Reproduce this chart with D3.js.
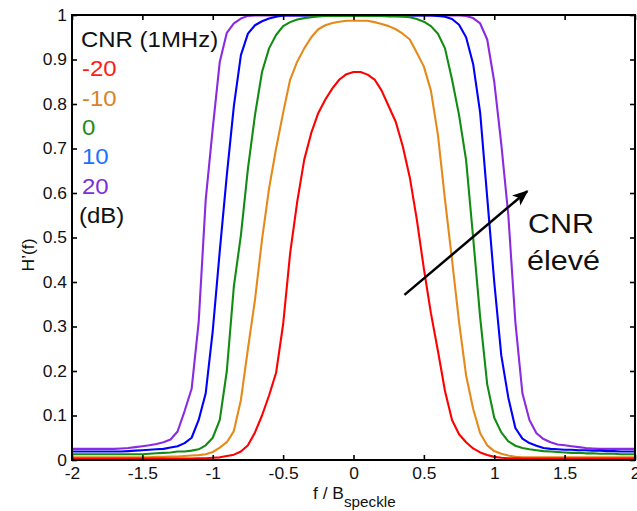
<!DOCTYPE html>
<html><head><meta charset="utf-8">
<script src="https://cdn.jsdelivr.net/npm/d3@7"></script>
<style>
html,body{margin:0;padding:0;background:#fff;}
svg{display:block;font-family:"Liberation Sans",Arial,sans-serif;}
</style></head>
<body>
<svg id="chart" width="637" height="511"></svg>
<script>
// ---------- data ----------
const freq = [
 -2.00,-1.95,-1.90,-1.85,-1.80,-1.75,-1.70,-1.65,-1.60,-1.55,
 -1.50,-1.45,-1.40,-1.35,-1.30,-1.25,-1.20,-1.15,-1.10,-1.05,
 -1.00,-0.95,-0.90,-0.85,-0.80,-0.75,-0.70,-0.65,-0.60,-0.55,
 -0.50,-0.45,-0.40,-0.35,-0.30,-0.25,-0.20,-0.15,-0.10,-0.05,
  0.00,
  0.05, 0.10, 0.15, 0.20, 0.25, 0.30, 0.35, 0.40, 0.45, 0.50,
  0.55, 0.60, 0.65, 0.70, 0.75, 0.80, 0.85, 0.90, 0.95, 1.00,
  1.05, 1.10, 1.15, 1.20, 1.25, 1.30, 1.35, 1.40, 1.45, 1.50,
  1.55, 1.60, 1.65, 1.70, 1.75, 1.80, 1.85, 1.90, 1.95, 2.00];

const cnrLabels = ["-20", "-10", "0", "10", "20"];

const hMinus20 = [
 0.003,0.003,0.003,0.003,0.003,0.003,0.003,0.003,0.003,0.003,
 0.003,0.003,0.003,0.003,0.003,0.003,0.003,0.003,0.004,0.004,
 0.005,0.006,0.009,0.012,0.019,0.033,0.062,0.100,0.145,0.196,
 0.305,0.465,0.580,0.675,0.735,0.780,0.810,0.835,0.855,0.867,
 0.872,
 0.872,0.866,0.855,0.830,0.795,0.760,0.705,0.635,0.540,0.430,
 0.330,0.245,0.155,0.090,0.058,0.040,0.026,0.017,0.011,0.007,
 0.005,0.004,0.004,0.003,0.003,0.003,0.003,0.003,0.003,0.003,
 0.003,0.003,0.003,0.003,0.003,0.003,0.003,0.003,0.003,0.003];

const hMinus10 = [
 0.006,0.006,0.006,0.006,0.006,0.006,0.006,0.006,0.006,0.006,
 0.006,0.006,0.007,0.007,0.008,0.008,0.009,0.010,0.011,0.013,
 0.018,0.028,0.040,0.065,0.135,0.250,0.360,0.495,0.610,0.700,
 0.780,0.855,0.895,0.925,0.950,0.968,0.977,0.982,0.985,0.987,
 0.987,
 0.987,0.987,0.984,0.980,0.975,0.968,0.958,0.945,0.915,0.884,
 0.830,0.730,0.585,0.450,0.310,0.190,0.115,0.060,0.033,0.020,
 0.014,0.010,0.007,0.006,0.006,0.006,0.006,0.006,0.006,0.006,
 0.006,0.006,0.006,0.006,0.006,0.006,0.006,0.006,0.006,0.006];

const h0 = [
 0.013,0.013,0.013,0.013,0.013,0.013,0.013,0.013,0.013,0.013,
 0.013,0.014,0.015,0.016,0.017,0.019,0.019,0.021,0.024,0.033,
 0.050,0.090,0.200,0.390,0.505,0.655,0.775,0.872,0.925,0.955,
 0.975,0.984,0.990,0.993,0.995,0.997,0.998,0.998,0.998,0.998,
 0.998,
 0.998,0.998,0.998,0.998,0.997,0.997,0.996,0.995,0.991,0.985,
 0.975,0.958,0.925,0.855,0.775,0.674,0.500,0.320,0.170,0.095,
 0.062,0.042,0.032,0.027,0.024,0.022,0.020,0.019,0.018,0.017,
 0.016,0.016,0.015,0.015,0.014,0.014,0.014,0.013,0.013,0.013];

const h10 = [
 0.019,0.019,0.019,0.019,0.019,0.019,0.019,0.019,0.020,0.021,
 0.022,0.023,0.024,0.025,0.028,0.031,0.038,0.050,0.090,0.150,
 0.290,0.470,0.640,0.795,0.910,0.958,0.977,0.986,0.992,0.996,
 0.999,0.999,0.999,0.999,0.999,0.999,0.999,0.999,0.999,0.999,
 0.999,
 0.999,0.999,0.999,0.999,0.999,0.999,0.999,0.999,0.999,0.999,
 0.999,0.998,0.996,0.991,0.978,0.950,0.890,0.780,0.590,0.400,
 0.235,0.140,0.072,0.048,0.038,0.032,0.027,0.025,0.024,0.023,
 0.023,0.022,0.022,0.021,0.021,0.020,0.020,0.019,0.019,0.019];

const h20 = [
 0.025,0.025,0.025,0.025,0.025,0.025,0.025,0.026,0.027,0.029,
 0.031,0.033,0.036,0.040,0.046,0.064,0.110,0.160,0.310,0.585,
 0.745,0.895,0.960,0.981,0.992,0.998,0.999,0.999,0.999,0.999,
 0.999,0.999,0.999,0.999,0.999,0.999,0.999,0.999,0.999,0.999,
 0.999,
 0.999,0.999,0.999,0.999,0.999,0.999,0.999,0.999,0.999,0.999,
 0.999,0.999,0.999,0.999,0.999,0.998,0.993,0.981,0.945,0.850,
 0.710,0.550,0.310,0.150,0.090,0.060,0.047,0.040,0.035,0.033,
 0.031,0.029,0.027,0.026,0.025,0.025,0.025,0.025,0.025,0.025];

const xTicks = [-2, -1.5, -1, -0.5, 0, 0.5, 1, 1.5, 2];
const xTickLabels = ["-2", "-1.5", "-1", "-0.5", "0", "0.5", "1", "1.5", "2"];
const yTicks = [0, 0.1, 0.2, 0.3, 0.4, 0.5, 0.6, 0.7, 0.8, 0.9, 1];
const yTickLabels = ["0", "0.1", "0.2", "0.3", "0.4", "0.5", "0.6", "0.7", "0.8", "0.9", "1"];

// arrow annotation in data coordinates: [tail, head]
const arrowFrom = [0.362, 0.371];
const arrowTo = [1.234, 0.604];

// ---------- drawing ----------
const lineColors = ["#ff0000", "#e58a1a", "#138c13", "#0000ff", "#8a2be2"];
const textColors = ["#ff1a1a", "#d98226", "#1a8c1a", "#1a70ff", "#7b2fd9"];
const seriesValues = [hMinus20, hMinus10, h0, h10, h20];

const W = 637, H = 511;
const m = {left: 72, top: 15, right: 2, bottom: 51};
const SX = 1.09; // horizontal stretch of the original lettering
const svg = d3.select("#chart");

const x = d3.scaleLinear().domain([-2, 2]).range([m.left, W - m.right]);
const y = d3.scaleLinear().domain([0, 1]).range([H - m.bottom, m.top]);

const line = d3.line().x((d) => x(d[0])).y((d) => y(d[1]));

// curves: draw highest CNR first so red ends on top
const order = [4, 3, 2, 1, 0];
order.forEach((k) => {
  const pts = freq.map((f, i) => [f, seriesValues[k][i]]);
  svg.append("path")
    .attr("d", line(pts))
    .attr("fill", "none")
    .attr("stroke", lineColors[k])
    .attr("stroke-width", 2.1)
    .attr("stroke-linejoin", "round");
});

// axes
const fmtX = (d) => xTickLabels[xTicks.indexOf(d)];
const fmtY = (d) => yTickLabels[yTicks.indexOf(d)];

const gx = svg.append("g").attr("transform", `translate(0,${y(0)})`)
  .call(d3.axisBottom(x).tickValues(xTicks).tickFormat(fmtX).tickSizeInner(-5).tickSizeOuter(0).tickPadding(8));
const gy = svg.append("g").attr("transform", `translate(${x(-2)},0)`)
  .call(d3.axisLeft(y).tickValues(yTicks).tickFormat(fmtY).tickSizeInner(-5).tickSizeOuter(0).tickPadding(5));
const gt = svg.append("g").attr("transform", `translate(0,${y(1)})`)
  .call(d3.axisTop(x).tickValues(xTicks).tickFormat("").tickSizeInner(-5).tickSizeOuter(0));
const gr = svg.append("g").attr("transform", `translate(${x(2)},0)`)
  .call(d3.axisRight(y).tickValues(yTicks).tickFormat("").tickSizeInner(-5).tickSizeOuter(0));

[gx, gy, gt, gr].forEach((g) => {
  g.select(".domain").remove();
  g.selectAll(".tick line").attr("stroke", "#000").attr("stroke-width", 1.6);
  g.selectAll(".tick text").attr("fill", "#111").style("font-size", "16px")
    .style("font-family", '"Liberation Sans", Arial, sans-serif')
    .attr("transform", `scale(${SX},1)`);
});
// keep y labels right edge near the axis after stretching
gy.selectAll(".tick text").attr("x", -5 / SX);

// frame
svg.append("rect")
  .attr("x", x(-2)).attr("y", y(1))
  .attr("width", x(2) - x(-2)).attr("height", y(0) - y(1))
  .attr("fill", "none").attr("stroke", "#000").attr("stroke-width", 2);

// text helper with horizontal stretch
function stext(px, py, size, color, str) {
  return svg.append("text")
    .attr("transform", `translate(${px},${py}) scale(${SX},1)`)
    .style("font-size", size + "px").attr("fill", color).text(str);
}

// axis labels
const xl = svg.append("text").attr("transform", `translate(313,499) scale(${SX},1)`)
  .style("font-size", "16px").attr("fill", "#111");
xl.append("tspan").text("f / B");
xl.append("tspan").attr("dy", 8).style("font-size", "14px").text("speckle");

svg.append("text")
  .attr("transform", `translate(34,${255}) rotate(-90) scale(${SX},1)`)
  .attr("text-anchor", "middle")
  .style("font-size", "16px").attr("fill", "#111")
  .text("H’(f)");

// legend
const legX = 81, legY0 = 47, legStep = 29.3;
stext(legX, legY0, 22, "#111", "CNR (1MHz)");
cnrLabels.forEach((lab, i) => {
  stext(legX + 1, legY0 + legStep * (i + 1), 22, textColors[i], lab);
});
stext(legX - 2, legY0 + legStep * 6, 22, "#111", "(dB)");

// arrow
svg.append("defs").append("marker")
  .attr("id", "ah").attr("viewBox", "0 0 10 10").attr("refX", 9).attr("refY", 5)
  .attr("markerUnits", "userSpaceOnUse")
  .attr("markerWidth", 16).attr("markerHeight", 16).attr("orient", "auto")
  .attr("preserveAspectRatio", "none")
  .append("path").attr("d", "M0,1 L10,5 L0,9 L2.5,5 z").attr("fill", "#000");
svg.append("line")
  .attr("x1", x(arrowFrom[0])).attr("y1", y(arrowFrom[1]))
  .attr("x2", x(arrowTo[0])).attr("y2", y(arrowTo[1]))
  .attr("stroke", "#000").attr("stroke-width", 2.5).attr("marker-end", "url(#ah)");

stext(528, 233, 28, "#111", "CNR");
stext(527, 270, 28, "#111", "élevé");
</script>
</body></html>
